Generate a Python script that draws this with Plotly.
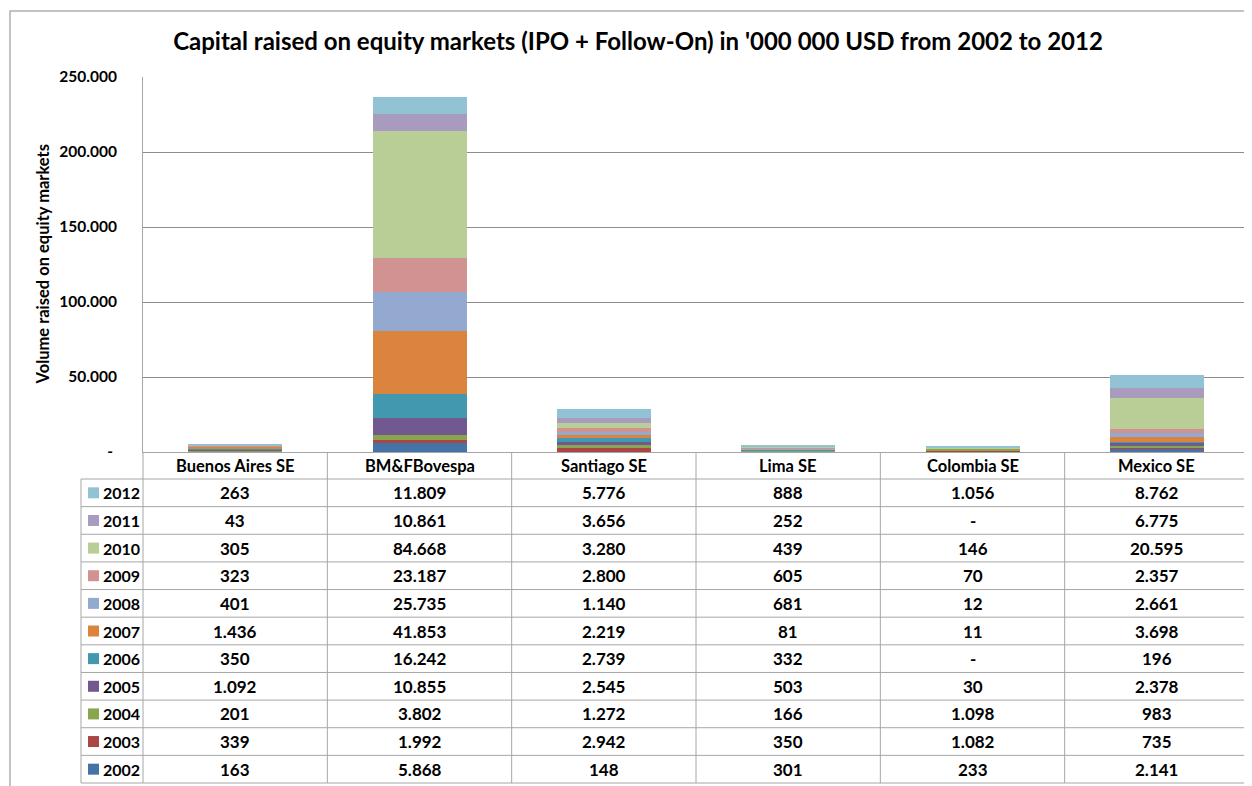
import plotly.graph_objects as go

exchanges = ["Buenos Aires SE", "BM&FBovespa", "Santiago SE", "Lima SE", "Colombia SE", "Mexico SE"]
years = ["2002", "2003", "2004", "2005", "2006", "2007", "2008", "2009", "2010", "2011", "2012"]

v2002 = [163, 5868, 148, 301, 233, 2141]
v2003 = [339, 1992, 2942, 350, 1082, 735]
v2004 = [201, 3802, 1272, 166, 1098, 983]
v2005 = [1092, 10855, 2545, 503, 30, 2378]
v2006 = [350, 16242, 2739, 332, 0, 196]
v2007 = [1436, 41853, 2219, 81, 11, 3698]
v2008 = [401, 25735, 1140, 681, 12, 2661]
v2009 = [323, 23187, 2800, 605, 70, 2357]
v2010 = [305, 84668, 3280, 439, 146, 20595]
v2011 = [43, 10861, 3656, 252, 0, 6775]
v2012 = [263, 11809, 5776, 888, 1056, 8762]

series = [v2002, v2003, v2004, v2005, v2006, v2007, v2008, v2009, v2010, v2011, v2012]
colors = ["#4572A7", "#AA4643", "#89A54E", "#71588F", "#4198AF", "#DB843D",
          "#93A9CF", "#D19392", "#B9CD96", "#A99BBD", "#91C3D5"]

y_tickvals = [0, 50000, 100000, 150000, 200000, 250000]
y_ticktext = ["-\u00a0", "50.000", "100.000", "150.000", "200.000", "250.000"]

title = "Capital raised on equity markets (IPO + Follow-On) in '000 000 USD from 2002 to 2012"
y_title = "Volume raised on equity markets"

FONT = "Lato, 'Noto Sans', sans-serif"
GRID = "#8c8c8c"
BORDER = "#a6a6a6"

# page body has an 8px margin; all target pixel coordinates are shifted by it
OFF = 8
FW, FH = 1252 - OFF, 786 - OFF
L, R, T, B = 143 - OFF, 1249 - OFF, 77 - OFF, 452 - OFF
PW, PH = R - L, B - T
TAB_LEFT = 81 - OFF
HDR_BOT = 479 - OFF
TAB_BOT = 783 - OFF
NROWS = len(years)
ROWH = (TAB_BOT - HDR_BOT) / NROWS


def px_x(px):
    return (px - L) / PW


def px_y(py):
    return (B - py) / PH


def fmt(v):
    return "-" if v == 0 else f"{v:,}".replace(",", ".")


fig = go.Figure()
for yr, vals, col in zip(years, series, colors):
    fig.add_trace(go.Bar(
        x=exchanges, y=vals, name=yr,
        marker=dict(color=col, line=dict(width=0)),
    ))

shapes = []
annotations = []

line_style = dict(color=BORDER, width=1)
# horizontal table lines
for k in range(NROWS + 1):
    yy = HDR_BOT + k * ROWH
    shapes.append(dict(type="line", xref="paper", yref="paper",
                       x0=px_x(TAB_LEFT), x1=px_x(R), y0=px_y(yy), y1=px_y(yy), line=line_style))
# vertical table lines
shapes.append(dict(type="line", xref="paper", yref="paper",
                   x0=px_x(TAB_LEFT), x1=px_x(TAB_LEFT), y0=px_y(HDR_BOT), y1=px_y(TAB_BOT), line=line_style))
shapes.append(dict(type="line", xref="paper", yref="paper",
                   x0=0, x1=0, y0=px_y(B), y1=px_y(TAB_BOT), line=line_style))
for i in range(len(exchanges)):
    shapes.append(dict(type="line", xref="x", yref="paper",
                       x0=i + 0.5, x1=i + 0.5, y0=px_y(B), y1=px_y(TAB_BOT), line=line_style))

# outer chart border
shapes.append(dict(type="rect", xref="paper", yref="paper",
                   x0=px_x(10 - OFF), x1=px_x(1262), y0=px_y(11 - OFF), y1=px_y(800),
                   line=dict(color="#b0b0b0", width=1.5), fillcolor="rgba(0,0,0,0)"))

# header labels
for ex in exchanges:
    annotations.append(dict(x=ex, xref="x", y=px_y((B + HDR_BOT) / 2), yref="paper",
                            text=ex, showarrow=False, xanchor="center", yanchor="middle",
                            font=dict(family=FONT, size=16.5, color="#000")))

# rows: top = 2012 ... bottom = 2002
for k, idx in enumerate(range(NROWS - 1, -1, -1)):
    cy = HDR_BOT + (k + 0.5) * ROWH
    shapes.append(dict(type="rect", xref="paper", yref="paper",
                       x0=px_x(88 - OFF), x1=px_x(99 - OFF), y0=px_y(cy + 5.5), y1=px_y(cy - 5.5),
                       fillcolor=colors[idx], line=dict(width=0)))
    annotations.append(dict(x=px_x(100.5 - OFF), xref="paper", y=px_y(cy), yref="paper",
                            text=years[idx], showarrow=False, xanchor="left", yanchor="middle",
                            font=dict(family=FONT, size=16, color="#000")))
    for ex, v in zip(exchanges, series[idx]):
        annotations.append(dict(x=ex, xref="x", y=px_y(cy), yref="paper",
                                text=fmt(v), showarrow=False, xanchor="center", yanchor="middle",
                                font=dict(family=FONT, size=17, color="#000")))

# y-axis title
annotations.append(dict(x=px_x(42 - OFF), xref="paper", y=0.5, yref="paper", text=y_title,
                        textangle=-90, showarrow=False, xanchor="center", yanchor="middle",
                        font=dict(family=FONT, size=16.5, color="#000")))

fig.update_layout(
    width=FW, height=FH,
    margin=dict(l=L, r=FW - R, t=T, b=FH - B, pad=0),
    barmode="stack", bargap=0.49,
    showlegend=False,
    paper_bgcolor="white", plot_bgcolor="white",
    font=dict(family=FONT, color="#000"),
    title=dict(text=title, xref="container", yref="container", x=(638 - OFF) / FW,
               y=1 - (42 - OFF) / FH, xanchor="center", yanchor="middle",
               font=dict(family=FONT, size=24, color="#000", weight="bold")),
    shapes=shapes, annotations=annotations,
)
fig.update_xaxes(range=[-0.5, len(exchanges) - 0.5], showticklabels=False, showgrid=False,
                 showline=True, linecolor=BORDER, linewidth=1, ticks="", zeroline=False)
fig.update_yaxes(range=[0, 250000], tickvals=y_tickvals, ticktext=y_ticktext,
                 showgrid=True, gridcolor=GRID, gridwidth=1, zeroline=False,
                 showline=True, linecolor=BORDER, linewidth=1, ticks="",
                 ticklabelstandoff=22,
                 tickfont=dict(family=FONT, size=15.5, color="#000", weight="bold"))

fig.update_annotations(font_weight="bold")

fig.write_html("out.html")
